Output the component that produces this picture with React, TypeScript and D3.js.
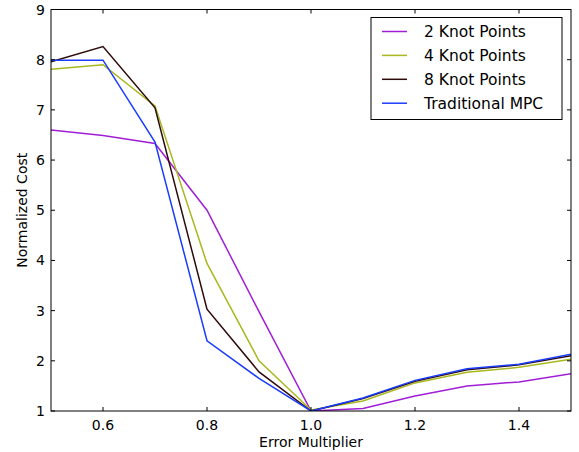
import React from "react";
import * as d3 from "d3";

const xValues = [0.5, 0.6, 0.7, 0.8, 0.9, 1.0, 1.1, 1.2, 1.3, 1.4, 1.5];
const knot2 = [6.6, 6.49, 6.33, 5.0, 2.98, 1.0, 1.05, 1.3, 1.5, 1.58, 1.74];
const knot4 = [7.81, 7.9, 7.08, 3.94, 2.0, 1.02, 1.2, 1.56, 1.77, 1.87, 2.03];
const knot8 = [7.96, 8.26, 7.04, 3.03, 1.78, 1.0, 1.25, 1.59, 1.82, 1.92, 2.1];
const mpc = [7.99, 7.99, 6.36, 2.4, 1.65, 1.0, 1.26, 1.61, 1.84, 1.93, 2.13];
const seriesNames = ["2 Knot Points", "4 Knot Points", "8 Knot Points", "Traditional MPC"];
const seriesColors = ["#a21ed6", "#a8b81e", "#2e0a0a", "#1a3cff"];
const xTicks = [0.6, 0.8, 1.0, 1.2, 1.4];
const yTicks = [1, 2, 3, 4, 5, 6, 7, 8, 9];

export default function App() {
  const W = 579, H = 452;
  const L = 51, R = 571, T = 9.5, B = 411;
  const x = d3.scaleLinear().domain([0.5, 1.5]).range([L, R]);
  const y = d3.scaleLinear().domain([1, 9]).range([B, T]);
  const data = [knot2, knot4, knot8, mpc];
  const line = d3.line<number>().x((_, i) => x(xValues[i])).y((d) => y(d));
  const font = "DejaVu Sans, sans-serif";
  const tl = 4;
  return (
    <svg width={W} height={H} style={{ position: "absolute", left: 0, top: 0, background: "#fff" }} fontFamily={font}>
      <rect x={0} y={0} width={W} height={H} fill="#fff" />
      <defs>
        <clipPath id="plotclip">
          <rect x={L} y={T} width={R - L} height={B - T} />
        </clipPath>
      </defs>
      <g clipPath="url(#plotclip)">
        {data.map((s, k) => (
          <path key={k} d={line(s) || ""} fill="none" stroke={seriesColors[k]} strokeWidth={1.5} />
        ))}
      </g>
      {xTicks.map((t) => (
        <g key={"x" + t}>
          <line x1={x(t)} x2={x(t)} y1={B} y2={B - tl} stroke="#000" />
          <line x1={x(t)} x2={x(t)} y1={T} y2={T + tl} stroke="#000" />
          <text x={x(t)} y={B + 19} textAnchor="middle" fontSize={14}>{t.toFixed(1)}</text>
        </g>
      ))}
      {yTicks.map((t) => (
        <g key={"y" + t}>
          <line x1={L} x2={L + tl} y1={y(t)} y2={y(t)} stroke="#000" />
          <line x1={R} x2={R - tl} y1={y(t)} y2={y(t)} stroke="#000" />
          <text x={L - 6} y={y(t) + 5} textAnchor="end" fontSize={14}>{t}</text>
        </g>
      ))}
      <rect x={L} y={T} width={R - L} height={B - T} fill="none" stroke="#000" strokeWidth={1} />
      <text x={(L + R) / 2} y={447} textAnchor="middle" fontSize={14}>Error Multiplier</text>
      <text transform={`translate(27,${(T + B) / 2}) rotate(-90)`} textAnchor="middle" fontSize={14}>Normalized Cost</text>
      <rect x={371} y={17.5} width={191} height={102} fill="#fff" stroke="#000" strokeWidth={1} />
      {seriesNames.map((n, k) => (
        <g key={n}>
          <line x1={382} x2={407} y1={31.5 + k * 23.9} y2={31.5 + k * 23.9} stroke={seriesColors[k]} strokeWidth={1.5} />
          <text x={424} y={31.5 + k * 23.9 + 5.5} fontSize={15.5}>{n}</text>
        </g>
      ))}
    </svg>
  );
}
